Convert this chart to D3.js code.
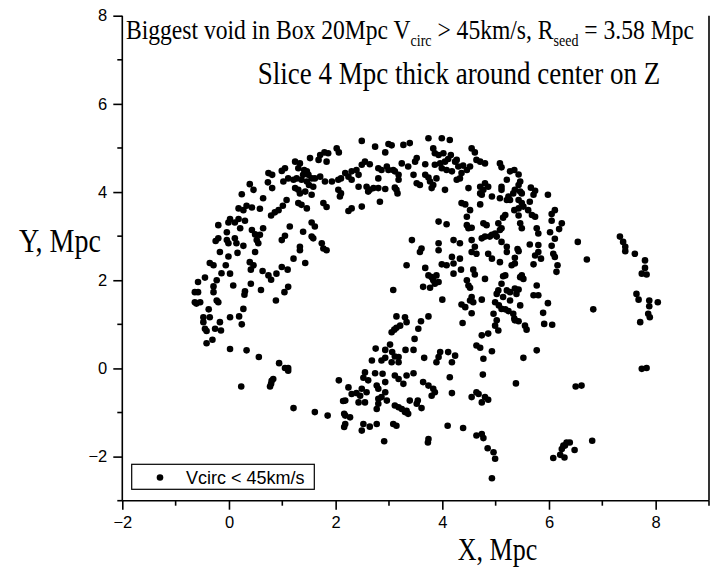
<!DOCTYPE html>
<html><head><meta charset="utf-8">
<script src="https://cdn.jsdelivr.net/npm/d3@7"></script>
<style>body{margin:0;background:#fff}svg{display:block}</style>
</head><body>
<svg id="chart" width="716" height="567"></svg>
<script>
// Axis setup
const xDomain = [-2, 9];
const yDomain = [-3, 8];
const xTickValues = [-2, 0, 2, 4, 6, 8];
const yTickValues = [-2, 0, 2, 4, 6, 8];
const xMinorTicks = [-1, 1, 3, 5, 7, 9];
const yMinorTicks = [-3, -1, 1, 3, 5, 7];

const titleLine1 = ["Biggest void in Box 20Mpc V", "circ", " > 45km/s,  R", "seed", " = 3.58 Mpc"];
const titleLine2 = "Slice 4 Mpc thick around center on Z";
const xLabel = "X, Mpc";
const yLabel = "Y, Mpc";
const legendLabel = "Vcirc < 45km/s";

// Galaxy positions (X, Y in Mpc) in the slice
const galaxies = [
[2.02,4.99],[2.06,4.90],[1.86,4.88],[1.79,4.90],[1.71,4.84],[1.68,4.73],[1.83,4.69],[1.52,4.77],[1.24,4.69],[1.33,4.65],
[1.30,4.54],[1.41,4.50],[1.46,4.47],[1.39,4.39],[1.49,4.39],[1.55,4.31],[1.36,4.28],[1.46,4.24],[1.50,4.16],[1.58,4.12],
[1.61,4.31],[1.71,4.35],[1.80,4.24],[1.93,4.24],[2.05,4.28],[2.10,4.31],[1.05,4.54],[0.99,4.48],[0.74,4.43],[0.81,4.39],
[1.11,4.31],[1.21,4.28],[1.27,4.31],[1.02,4.24],[0.73,4.22],[1.24,4.09],[1.30,4.05],[1.33,3.97],[1.43,4.01],[1.55,3.94],
[2.05,4.05],[2.10,3.97],[2.08,3.90],[0.39,4.18],[0.46,4.05],[0.81,4.09],[0.24,3.95],[0.64,3.86],[1.08,3.82],[1.01,3.69],
[0.93,3.59],[0.86,3.54],[0.79,3.47],[1.30,3.75],[1.36,3.71],[1.46,3.63],[1.77,3.75],[1.83,3.66],[0.18,3.63],[0.27,3.59],
[0.33,3.69],[0.43,3.65],[0.58,3.62],[0.02,3.39],[-0.01,3.31],[0.11,3.31],[0.18,3.39],[0.21,3.18],[0.30,3.35],[-0.20,3.25],
[-0.04,3.09],[0.43,3.14],[0.49,3.04],[0.64,3.18],[0.58,3.03],[1.14,3.22],[1.05,3.01],[0.99,2.91],[1.55,3.31],[1.61,3.22],
[1.39,3.10],[1.55,2.99],[1.58,2.95],[-0.20,2.95],[-0.25,2.89],[-0.04,2.91],[-0.01,2.84],[0.11,2.95],[0.14,2.84],[0.27,2.78],
[0.52,2.91],[0.55,2.84],[1.33,2.76],[1.74,2.84],[1.77,2.72],
[2.49,5.16],[2.74,5.03],[2.99,5.09],[3.05,5.06],[2.93,4.90],[3.27,5.07],[3.39,5.11],[3.74,5.22],[3.99,5.22],[4.14,5.18],
[3.83,4.99],[3.86,4.88],[3.93,4.84],[4.02,4.88],[4.16,4.84],[4.11,4.75],[4.27,4.73],[4.24,4.69],[4.55,4.99],[4.61,4.90],
[4.64,4.73],[4.71,4.69],[4.80,4.65],[5.08,4.65],[5.11,4.56],[3.52,4.77],[3.49,4.69],[3.24,4.65],[3.36,4.58],[3.68,4.63],
[3.86,4.62],[3.96,4.65],[4.05,4.69],[3.99,4.54],[4.08,4.50],[4.18,4.47],[4.30,4.58],[4.39,4.60],[4.52,4.58],[4.46,4.50],
[4.36,4.43],[4.33,4.31],[4.27,4.28],[2.55,4.69],[2.49,4.62],[2.64,4.63],[2.80,4.54],[2.86,4.50],[2.80,4.31],[2.96,4.58],
[2.99,4.50],[3.11,4.47],[3.08,4.50],[3.18,4.39],[3.18,4.28],[2.18,4.43],[2.30,4.47],[2.39,4.50],[2.43,4.39],[2.30,4.28],
[2.24,4.35],[3.46,4.39],[3.68,4.39],[3.74,4.33],[3.77,4.24],[3.83,4.16],[3.89,4.31],[3.80,4.09],[3.52,4.20],[3.58,4.16],
[2.43,4.12],[2.58,4.12],[2.64,4.05],[2.71,4.09],[2.80,4.09],[2.93,4.07],[3.11,4.10],[3.14,4.05],[3.16,3.97],[2.61,4.01],
[4.05,4.05],[4.49,4.09],[4.71,4.12],[4.77,4.05],[4.74,3.94],[4.71,3.97],[4.80,4.20],[4.86,4.12],[4.93,3.90],[5.08,3.86],
[5.11,4.12],[5.11,4.05],[2.83,3.78],[2.30,3.63],[2.24,3.57],[2.49,3.67],[4.36,3.75],[4.43,3.72],[4.52,3.59],[4.46,3.44],
[4.71,3.72],[3.93,3.33],[4.08,3.27],[4.46,3.25],[4.49,3.18],[4.55,3.19],[4.77,3.29],[4.83,3.25],[5.05,3.29],[5.14,3.42],
[5.08,3.14],[4.99,3.06],[4.93,3.03],[5.02,2.99],[5.11,3.18],[3.43,2.91],[3.93,2.84],[4.21,2.91],[4.33,2.84],[4.55,2.91],
[4.61,2.76],[4.74,2.95],[4.80,2.99],[4.89,2.99],[3.61,2.72],[5.11,2.87],
[5.27,4.47],[5.35,4.50],[5.43,4.40],[5.21,4.28],[5.46,4.24],[5.43,4.16],[5.36,4.05],[5.33,3.97],[5.46,4.01],[5.49,3.97],
[5.66,4.10],[5.74,4.03],[5.71,3.94],[5.98,3.94],[5.24,3.90],[5.27,3.82],[5.21,3.82],[5.43,3.82],[5.49,3.75],[5.52,3.67],
[5.64,3.78],[5.43,3.63],[5.35,3.59],[5.61,3.59],[5.68,3.48],[5.74,3.44],[5.18,3.48],[5.43,3.47],[5.46,3.29],[5.49,3.18],
[5.77,3.18],[5.80,3.06],[6.11,3.59],[6.05,3.50],[6.05,3.35],[6.24,3.29],[6.19,3.16],[6.02,3.09],[6.11,2.94],[5.21,2.76],
[5.41,2.71],[5.64,2.81],[5.80,2.80],[6.05,2.78],[6.54,2.87],[7.33,2.99],[7.39,2.87],[7.43,2.76],
[-0.17,2.64],[-0.01,2.54],[0.16,2.62],[0.49,2.64],[-0.36,2.39],[-0.29,2.34],[-0.06,2.34],[0.39,2.41],[0.46,2.34],[0.41,2.24],
[0.63,2.21],[0.74,2.11],[0.79,2.01],[0.89,2.15],[0.99,2.30],[1.10,2.24],[1.21,2.49],[1.43,2.39],[1.33,2.68],[1.83,2.68],
[-0.14,2.16],[0.02,2.15],[-0.45,2.06],[-0.23,2.00],[-0.58,1.96],[0.08,1.88],[0.41,1.92],[-0.29,1.86],[-0.29,1.73],[-0.64,1.73],
[-0.58,1.73],[0.30,1.75],[0.29,1.67],[0.60,1.78],[1.04,1.73],[1.11,1.85],[-0.23,1.54],[-0.20,1.50],[-0.64,1.50],[-0.54,1.50],
[-0.61,1.47],[0.88,1.54],[-0.38,1.34],[-0.36,1.16],[-0.48,1.16],[-0.48,1.05],[0.27,1.35],[0.02,1.16],[0.19,1.18],[-0.17,1.05],
[0.24,1.00],[-0.45,0.90],[-0.42,0.85],[-0.26,0.90],[-0.15,0.86],[-0.31,0.65],[-0.42,0.57],[0.02,0.44],[0.33,0.41],[0.56,0.26],
[0.94,0.12],[1.05,0.01],[1.11,0.01],
[3.58,2.64],[3.93,2.68],[4.18,2.53],[4.33,2.49],[4.55,2.64],[4.64,2.60],[4.86,2.60],[4.93,2.49],[5.08,2.41],[3.33,2.34],
[3.68,2.28],[3.99,2.36],[4.08,2.34],[4.21,2.38],[4.35,2.24],[4.21,2.15],[4.58,2.24],[4.61,2.13],[3.74,2.11],[3.80,2.07],
[3.89,2.11],[3.83,2.00],[3.93,1.96],[3.86,1.92],[3.77,1.83],[3.64,1.85],[3.08,1.78],[4.46,2.00],[4.49,1.88],[4.52,1.83],
[4.80,2.03],[5.14,2.09],[5.11,1.92],[5.05,1.77],[5.02,1.69],[4.55,1.62],[4.58,1.50],[4.52,1.54],[4.74,1.56],[4.00,1.56],
[4.36,1.45],[4.43,1.39],[4.55,1.25],[4.99,1.50],[5.06,1.43],[5.11,1.35],[4.96,1.24],[5.02,1.09],[4.99,0.97],[5.05,0.86],
[5.14,1.62],[3.14,1.18],[3.30,1.16],[3.33,1.05],[3.21,0.97],[3.14,0.92],[3.10,0.88],[3.05,0.82],[3.55,0.90],[3.60,1.07],
[3.74,1.18],[4.38,1.03],[4.74,0.75],[4.86,0.79],[3.48,0.67],[3.02,0.54],[2.93,0.42],[3.06,0.37],[3.11,0.27],[3.18,0.26],
[2.75,0.45],[3.31,0.42],[3.46,0.42],[2.86,0.18],[2.93,0.24],[2.68,0.18],[3.05,0.14],[3.18,0.14],[3.66,0.24],[3.93,0.26],
[3.96,0.37],[4.11,0.37],[4.24,0.29],[3.89,0.14],[4.18,0.14],[4.64,0.52],[4.71,0.47],[4.93,0.39],[4.77,0.22],
[5.21,2.64],[5.43,2.66],[5.36,2.51],[5.30,2.34],[5.36,2.38],[5.74,2.56],[5.80,2.64],[5.85,2.49],[6.08,2.60],[6.11,2.53],
[6.16,2.34],[6.14,2.19],[5.71,2.36],[6.71,2.47],[7.43,2.66],[7.61,2.60],[7.80,2.45],[7.80,2.28],[7.74,2.15],[7.83,2.13],
[5.49,2.11],[5.52,2.03],[5.46,2.07],[5.18,2.11],[5.77,1.88],[5.21,1.77],[5.27,1.73],[5.36,1.81],[5.43,1.79],[5.39,1.69],
[5.71,1.66],[5.80,1.66],[5.27,1.54],[5.98,1.48],[5.46,1.43],[6.83,1.34],[7.64,1.69],[7.68,1.56],[7.88,1.54],[8.04,1.50],
[7.88,1.41],[7.86,1.24],[7.89,1.16],[5.89,1.26],[5.18,1.34],[5.24,1.30],[5.33,1.24],[5.36,1.09],[5.43,1.07],[5.35,1.13],
[5.55,0.97],[5.58,0.88],[5.91,1.01],[6.06,0.99],[7.71,1.05],[5.77,0.41],[5.52,0.24],[7.74,-0.01],[7.83,0.01],
[0.23,-0.41],[0.80,-0.28],[0.79,-0.35],[0.83,-0.24],[0.77,-0.41],[1.11,-0.05],[1.21,-0.90],[1.61,-0.99],[1.85,-1.07],[2.06,-0.27],
[2.14,-0.74],[2.16,-1.03],[2.16,-1.33],
[2.55,-0.09],[2.74,-0.11],[2.88,-0.12],[2.52,-0.21],[2.61,-0.27],[3.11,-0.16],[3.18,-0.24],[3.27,-0.35],[3.33,-0.16],[3.46,-0.11],
[2.24,-0.43],[2.30,-0.58],[2.39,-0.56],[2.46,-0.62],[2.58,-0.54],[2.49,-0.46],[2.18,-0.73],[2.43,-0.77],[2.55,-0.77],[2.77,-0.39],
[2.80,-0.46],[2.93,-0.54],[2.93,-0.31],[2.80,-0.69],[2.86,-0.65],[2.96,-0.73],[2.80,-0.80],[2.77,-0.92],[3.11,-0.84],[3.18,-0.88],
[3.24,-0.92],[3.30,-0.99],[3.36,-1.03],[3.33,-0.96],[3.39,-0.73],[3.54,-0.73],[3.52,-0.80],[3.61,-0.90],[3.64,-0.31],[3.74,-0.39],
[3.83,-0.46],[3.86,-0.54],[3.80,-0.62],[4.14,-0.20],[4.18,-0.56],[4.76,-0.14],[4.55,-0.65],[4.64,-0.54],[4.68,-0.58],[4.74,-0.77],
[4.80,-0.65],[4.86,-0.71],[2.18,-1.07],[2.27,-1.11],[2.18,-1.26],[2.52,-1.26],[2.64,-1.32],[2.49,-1.41],[2.77,-1.26],[3.08,-1.26],
[3.14,-1.30],[2.91,-1.65],[3.74,-1.60],[3.73,-1.68],[4.10,-1.30],[4.39,-1.35],[4.64,-1.52],[4.74,-1.49],[4.77,-1.58],[4.85,-1.81],
[4.96,-1.90],[4.99,-2.05],[4.93,-2.49],
[5.38,-0.34],[6.50,-0.41],[6.61,-0.39],[6.81,-1.64],[6.27,-1.75],[6.33,-1.68],[6.39,-1.68],[6.24,-1.83],[6.21,-1.96],[6.08,-2.03],
[6.29,-2.02],[6.48,-1.85],[6.30,-1.75]
];

const svg = d3.select("#chart");
const plot = {left: 122.3, right: 709, top: 15.7, bottom: 500.7};

const x = d3.scaleLinear().domain(xDomain).range([plot.left, plot.right]);
const y = d3.scaleLinear().domain(yDomain).range([plot.bottom, plot.top]);

const axisFont = "'Liberation Sans', Arial, sans-serif";
const serifFont = "'Liberation Serif', 'Times New Roman', serif";
const stroke = 1.6;

// Galaxies
svg.append("g").selectAll("circle").data(galaxies).join("circle")
  .attr("cx", d => x(d[0])).attr("cy", d => y(d[1])).attr("r", 3.3)
  .attr("fill", "#000");

// Right edge of the frame
svg.append("line").attr("x1", plot.right).attr("x2", plot.right)
  .attr("y1", plot.top).attr("y2", plot.bottom)
  .attr("stroke", "#000").attr("stroke-width", stroke);

// Bottom axis with minor ticks
const xAxis = svg.append("g").attr("transform", `translate(0,${plot.bottom})`)
  .call(d3.axisBottom(x).tickValues(xTickValues).tickSize(9).tickPadding(7).tickFormat(d3.format("d")));
xAxis.append("g").selectAll("line").data(xMinorTicks).join("line")
  .attr("x1", d => x(d)).attr("x2", d => x(d)).attr("y1", 0).attr("y2", 5)
  .attr("stroke", "#000").attr("stroke-width", stroke);

// Left axis with minor ticks
const yAxis = svg.append("g").attr("transform", `translate(${plot.left},0)`)
  .call(d3.axisLeft(y).tickValues(yTickValues).tickSize(9).tickPadding(6).tickFormat(d3.format("d")));
yAxis.append("g").selectAll("line").data(yMinorTicks).join("line")
  .attr("x1", 0).attr("x2", -5).attr("y1", d => y(d)).attr("y2", d => y(d))
  .attr("stroke", "#000").attr("stroke-width", stroke);

[xAxis, yAxis].forEach(g => {
  g.select(".domain").remove();
  g.selectAll(".tick line").attr("stroke-width", stroke);
  g.selectAll(".tick text").attr("font-family", axisFont).attr("font-size", 16.5).attr("fill", "#000");
});
xAxis.append("line").attr("x1", plot.left).attr("x2", plot.right).attr("stroke", "#000").attr("stroke-width", stroke);
yAxis.append("line").attr("y1", plot.top).attr("y2", plot.bottom).attr("stroke", "#000").attr("stroke-width", stroke);

// Tall serif text helper (the labels are drawn slightly stretched vertically)
function serifText(px, py, size, anchor) {
  return svg.append("text")
    .attr("transform", `translate(${px},${py}) scale(1,1.2)`)
    .attr("text-anchor", anchor || "start")
    .attr("font-family", serifFont).attr("font-size", size).attr("fill", "#000");
}

// Title, first line with subscripts
const t1 = serifText(126, 39, 23.6);
titleLine1.forEach((s, i) => {
  const sub = i % 2 === 1;
  t1.append("tspan").text(s)
    .attr("font-size", sub ? 14 : 23.6)
    .attr("dy", sub ? 6 : (i > 0 ? -6 : 0));
});
// Title, second line
serifText(459, 84, 27, "middle").text(titleLine2);

// Axis titles
serifText(19, 252, 28).text(yLabel);
serifText(497.5, 560, 26, "middle").text(xLabel);

// Legend
const lg = svg.append("g");
lg.append("rect").attr("x", 131.7).attr("y", 464.3).attr("width", 182.6).attr("height", 25)
  .attr("fill", "#fff").attr("stroke", "#000").attr("stroke-width", 1.2);
lg.append("circle").attr("cx", 160).attr("cy", 477.5).attr("r", 3.3).attr("fill", "#000");
lg.append("text").attr("x", 186).attr("y", 484).attr("font-family", axisFont)
  .attr("font-size", 18).attr("fill", "#000").text(legendLabel);
</script>
</body></html>
